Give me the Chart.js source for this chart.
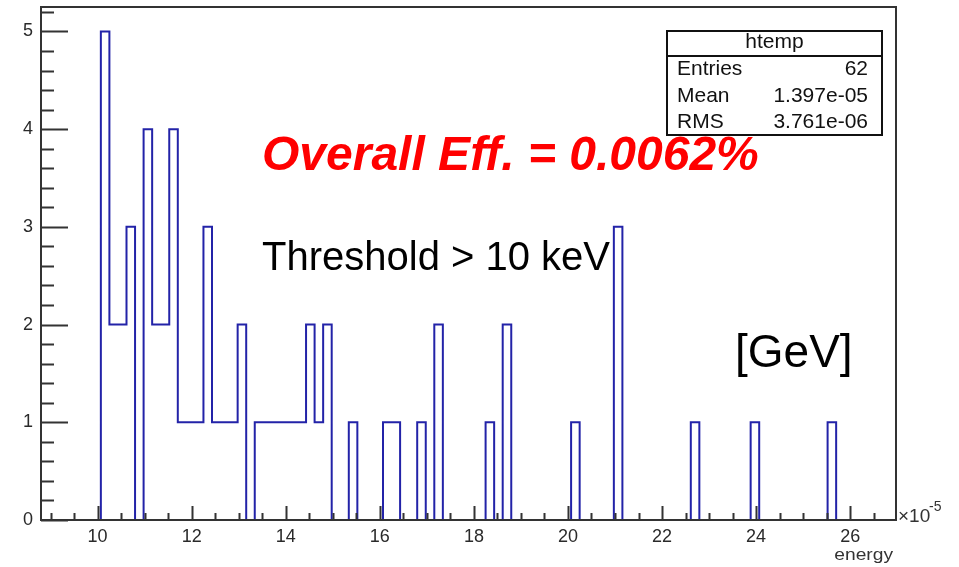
<!DOCTYPE html>
<html><head><meta charset="utf-8">
<script src="https://cdn.jsdelivr.net/npm/chart.js@4.4.1/dist/chart.umd.min.js"></script>
<style>html,body{margin:0;padding:0;background:#fff;overflow:hidden}#wrap{width:959px;height:567px}</style>
</head><body><div id="wrap"><canvas id="c" width="959" height="567"></canvas></div>
<script>
// ---- data ----
const X_MIN = 8.797;
const X_MAX = 26.974;
const N_BINS = 100;
const filledBins = [7,8,9,10,12,13,14,15,16,17,18,19,20,21,22,23,25,26,27,28,29,30,31,32,33,36,40,41,44,46,52,54,62,67,76,83,92];
const binCounts  = [5,2,2,3,4,2,2,4,1,1,1,3,1,1,1,2,1,1,1,1,1,1,2,1,2,1,1,1,1,2,1,2,1,3,1,1,1];
const xMajorTicks = [10,12,14,16,18,20,22,24,26];
const xMinorStep = 0.5;
const yMajorTicks = [0,1,2,3,4,5];
const yMinorStep = 0.2;
const Y_MAX = 5.25;
const statsTitle = 'htemp';
const statsLabels = ['Entries','Mean','RMS'];
const statsValues = ['62','1.397e-05','3.761e-06'];
const effText = 'Overall Eff. = 0.0062%';
const thrText = 'Threshold > 10 keV';
const unitText = '[GeV]';
const xTitle = 'energy';

const BIN_W = (X_MAX - X_MIN) / N_BINS;
const stepPoints = [];
for (let k = 0; k < N_BINS; k++) {
  const i = filledBins.indexOf(k);
  stepPoints.push({x: X_MIN + k * BIN_W, y: i >= 0 ? binCounts[i] : 0});
}
stepPoints.push({x: X_MAX, y: 0});

const FONT = '"Liberation Sans", Arial, Helvetica, sans-serif';
const isMajorX = v => xMajorTicks.some(t => Math.abs(t - v) < 1e-6);
const isMajorY = v => yMajorTicks.some(t => Math.abs(t - v) < 1e-6);

const framePlugin = {
  id: 'frame',
  afterDatasetsDraw(chart) {
    const {ctx, chartArea: a, scales: {x, y}} = chart;
    ctx.save();
    ctx.strokeStyle = '#333';
    ctx.lineWidth = 2;
    ctx.strokeRect(a.left, a.top, a.right - a.left, a.bottom - a.top);
    ctx.beginPath();
    x.ticks.forEach(t => {
      const px = Math.round(x.getPixelForValue(t.value)) + 0.5;
      const len = isMajorX(t.value) ? 14 : 7;
      ctx.moveTo(px, a.bottom); ctx.lineTo(px, a.bottom - len);
    });
    y.ticks.forEach(t => {
      const py = Math.round(y.getPixelForValue(t.value)) + 0.5;
      const len = isMajorY(t.value) ? 27 : 13;
      ctx.moveTo(a.left, py); ctx.lineTo(a.left + len, py);
    });
    ctx.stroke();
    ctx.restore();
  },
  afterDraw(chart) {
    const {ctx} = chart;
    ctx.save();
    ctx.fillStyle = '#ff0000';
    ctx.font = 'italic bold 48px ' + FONT;
    ctx.textBaseline = 'alphabetic';
    ctx.textAlign = 'left';
    ctx.fillText(effText, 262, 170);
    ctx.fillStyle = '#000';
    ctx.font = '40px ' + FONT;
    ctx.fillText(thrText, 262, 270);
    ctx.font = '46px ' + FONT;
    ctx.fillText(unitText, 735, 367);
    // stats box
    const bx = 667, by = 31, bw = 215, bh = 104;
    ctx.fillStyle = '#fff';
    ctx.fillRect(bx, by, bw, bh);
    ctx.strokeStyle = '#111';
    ctx.lineWidth = 2;
    ctx.strokeRect(bx, by, bw, bh);
    ctx.beginPath(); ctx.moveTo(bx, 56); ctx.lineTo(bx + bw, 56); ctx.stroke();
    ctx.fillStyle = '#111';
    ctx.font = '21px ' + FONT;
    ctx.textAlign = 'center';
    ctx.fillText(statsTitle, bx + bw / 2, 48);
    const rows = [75, 101.5, 127.5];
    statsLabels.forEach((l, i) => {
      ctx.textAlign = 'left';
      ctx.fillText(l, 677, rows[i]);
      ctx.textAlign = 'right';
      ctx.fillText(statsValues[i], 868, rows[i]);
    });
    // x10^-5 and axis title
    ctx.fillStyle = '#333';
    ctx.textAlign = 'left';
    ctx.font = '19px ' + FONT;
    ctx.fillText('\u00d710', 898, 522);
    ctx.font = '14px ' + FONT;
    ctx.fillText('-5', 929, 511);
    ctx.save();
    ctx.font = '16px ' + FONT;
    ctx.textAlign = 'right';
    ctx.translate(893, 560);
    ctx.scale(1.2, 1);
    ctx.fillText(xTitle, 0, 0);
    ctx.restore();
    ctx.restore();
  }
};

new Chart(document.getElementById('c'), {
  type: 'line',
  data: {
    datasets: [{
      data: stepPoints,
      stepped: 'before',
      borderColor: '#2323a8',
      borderWidth: 2,
      pointRadius: 0,
      fill: false,
      tension: 0
    }]
  },
  options: {
    responsive: false,
    animation: false,
    devicePixelRatio: 1,
    layout: {padding: {left: 0, top: 7, right: 63, bottom: 0}},
    plugins: {legend: {display: false}, tooltip: {enabled: false}},
    scales: {
      x: {
        type: 'linear', min: X_MIN, max: X_MAX,
        afterBuildTicks(s) {
          const t = [];
          for (let v = Math.ceil(X_MIN / xMinorStep) * xMinorStep; v <= X_MAX + 1e-9; v += xMinorStep) t.push({value: Math.round(v * 100) / 100});
          s.ticks = t;
        },
        afterFit(s) { s.height = 47; s.paddingLeft = 0; s.paddingRight = 0; },
        grid: {display: false, drawTicks: false},
        border: {display: false},
        ticks: {
          autoSkip: false, maxRotation: 0, padding: 6, color: '#2a2a2a',
          font: {family: FONT, size: 18},
          callback: v => isMajorX(v) ? String(Math.round(v)) : ''
        }
      },
      y: {
        type: 'linear', min: 0, max: Y_MAX,
        afterBuildTicks(s) {
          const t = [];
          for (let i = 0; i * yMinorStep <= Y_MAX + 1e-9; i++) t.push({value: Math.round(i * yMinorStep * 10) / 10});
          s.ticks = t;
        },
        afterFit(s) { s.width = 41; s.paddingTop = 0; s.paddingBottom = 0; },
        grid: {display: false, drawTicks: false},
        border: {display: false},
        ticks: {
          autoSkip: false, padding: 8, color: '#2a2a2a',
          font: {family: FONT, size: 18},
          callback: v => isMajorY(v) ? String(Math.round(v)) : ''
        }
      }
    }
  },
  plugins: [framePlugin]
});
</script></body></html>
